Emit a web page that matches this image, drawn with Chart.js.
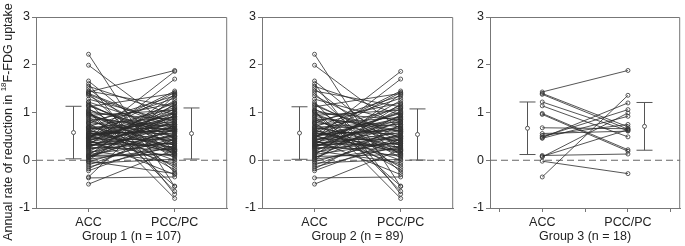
<!DOCTYPE html>
<html>
<head>
<meta charset="utf-8">
<script src="https://cdn.jsdelivr.net/npm/chart.js@4.4.1/dist/chart.umd.min.js"></script>
<style>
  body { margin: 0; background: #fff; }
  .panel { position: absolute; top: 0; }
</style>
</head>
<body>
<div class="panel" style="left:0"><canvas id="c1" width="232" height="246"></canvas></div>
<div class="panel" style="left:232px"><canvas id="c2" width="226" height="246"></canvas></div>
<div class="panel" style="left:458px"><canvas id="c3" width="227" height="246"></canvas></div>
<script>
// === Data ===
const categories = ["ACC", "PCC/PC"];
const catX = [2, 4];          // x positions of the two regions
const errX = [1.64, 4.38];    // x positions of the mean ± SD bars
const yTicks = [-1, 0, 1, 2, 3];

// Group 2 (n = 89), paired values ACC -> PCC/PC
const g2Acc = [
  2.22, 1.99, 1.66, 1.60, 1.55, 1.50, 1.45, 1.40, 1.35, 1.28,
  1.22, 1.18, 1.12, 1.08, 1.05, 1.02, 1.00, 0.97, 0.94, 0.90,
  0.87, 0.85, 0.82, 0.80, 0.77, 0.75, 0.72, 0.70, 0.68, 0.66,
  0.64, 0.62, 0.60, 0.58, 0.56, 0.55, 0.53, 0.51, 0.50, 0.48,
  0.46, 0.45, 0.43, 0.42, 0.40, 0.38, 0.37, 0.35, 0.34, 0.32,
  0.31, 0.30, 0.28, 0.27, 0.25, 0.24, 0.22, 0.20, 0.18, 0.16,
  0.14, 0.12, 0.10, 0.08, 0.06, 0.04, 0.02, 0.00, -0.03, -0.06,
  -0.10, -0.14, -0.18, -0.22, -0.37, -0.50, 1.03, 0.92, 0.78, 0.63,
  0.52, 0.41, 0.33, 0.29, 0.36, 0.47, 0.57, 0.69, 1.15
];
const g2Pcc = [
  -0.55, 0.65, 0.20, -0.71, 0.95, 0.10, 1.12, -0.25, 0.45, 0.80,
  -0.65, 0.30, 1.40, 0.05, 0.60, -0.80, 0.85, 0.35, 1.05, -0.15,
  0.70, 0.15, 1.20, 0.50, -0.20, 0.90, 0.25, 1.30, 0.40, 0.75,
  0.00, 1.10, 0.55, 0.32, 1.45, 0.62, -0.10, 0.88, 0.18, 0.98,
  1.86, 0.42, 0.68, -0.30, 1.00, 0.28, 0.78, 1.15, 0.08, 0.58,
  1.70, 0.48, 0.92, 0.22, 1.25, 0.36, 0.72, -0.05, 1.08, 0.52,
  0.82, 0.38, 1.38, 0.12, 0.64, 0.95, 0.26, 1.18, 0.46, 0.02,
  0.56, 0.30, 0.74, 0.44, -0.35, 0.22, -0.54, 0.60, 1.35, 0.14,
  0.66, 1.02, 0.34, 0.86, 0.50, 1.42, 0.20, 0.80, 0.40
];

// Group 3 (n = 18)
const g3Acc = [1.43, 1.40, 1.38, 1.22, 1.14, 0.98, 0.96, 0.68, 0.56,
               0.52, 0.49, 0.47, 0.46, 0.10, 0.07, 0.08, -0.02, -0.35];
const g3Pcc = [1.88, 0.70, 0.65, 0.62, 0.49, 0.22, 0.19, 0.66, 0.61,
               0.75, 1.06, 1.20, 0.92, 0.13, 0.99, 0.64, -0.28, 1.36];

// Group 1 (n = 107) = Group 2 + Group 3
const g1Acc = g2Acc.concat(g3Acc);
const g1Pcc = g2Pcc.concat(g3Pcc);

// mean and SD shown by the error bars [ACC, PCC/PC]
const g1Mean = [0.58, 0.56], g1Sd = [0.55, 0.535];
const g2Mean = [0.57, 0.54], g2Sd = [0.55, 0.535];
const g3Mean = [0.67, 0.71], g3Sd = [0.55, 0.50];

const FONT = "'Liberation Sans', Arial, sans-serif";
const LINE = "#2a2a2a";
const AXIS = "#777777";

// === Plugin: dashed zero line, frame, error bars ===
const panelPlugin = {
  id: "panelExtras",
  beforeDatasetsDraw(chart) {
    const { ctx, chartArea: a, scales: { y } } = chart;
    const y0 = y.getPixelForValue(0);
    ctx.save();
    ctx.strokeStyle = "#666";
    ctx.lineWidth = 1;
    ctx.setLineDash([7, 4]);
    ctx.beginPath();
    ctx.moveTo(a.left, y0);
    ctx.lineTo(a.right, y0);
    ctx.stroke();
    ctx.setLineDash([]);
    // top and right border of the frame
    ctx.strokeStyle = AXIS;
    ctx.beginPath();
    ctx.moveTo(a.left, a.top + 0.5);
    ctx.lineTo(a.right - 0.5, a.top + 0.5);
    ctx.lineTo(a.right - 0.5, a.bottom);
    ctx.stroke();
    ctx.restore();
  },
  afterDatasetsDraw(chart, args, opts) {
    const { ctx, scales: { x, y } } = chart;
    ctx.save();
    ctx.strokeStyle = "#555";
    ctx.lineWidth = 1;
    opts.mean.forEach((m, i) => {
      const px = Math.round(x.getPixelForValue(errX[i])) + 0.5;
      const top = y.getPixelForValue(m + opts.sd[i]);
      const bot = y.getPixelForValue(m - opts.sd[i]);
      ctx.beginPath();
      ctx.moveTo(px, top); ctx.lineTo(px, bot);
      ctx.moveTo(px - 8, top); ctx.lineTo(px + 8, top);
      ctx.moveTo(px - 8, bot); ctx.lineTo(px + 8, bot);
      ctx.stroke();
      ctx.beginPath();
      ctx.fillStyle = "#fff";
      ctx.arc(px, y.getPixelForValue(m), 2, 0, Math.PI * 2);
      ctx.fill();
      ctx.stroke();
    });
    ctx.restore();
  }
};

// === Plugin: y-axis title with superscript ===
const yTitlePlugin = {
  id: "yTitle",
  afterDraw(chart) {
    const ctx = chart.ctx;
    const parts = [
      { t: "Annual rate of reduction in ", s: 12.5, dy: 0 },
      { t: "18", s: 8, dy: -5 },
      { t: "F-FDG uptake", s: 12.5, dy: 0 }
    ];
    ctx.save();
    ctx.fillStyle = "#222";
    ctx.textBaseline = "middle";
    let total = 0;
    parts.forEach(p => { ctx.font = p.s + "px " + FONT; total += ctx.measureText(p.t).width; });
    ctx.translate(9, 122);
    ctx.rotate(-Math.PI / 2);
    let cx = -total / 2;
    parts.forEach(p => {
      ctx.font = p.s + "px " + FONT;
      ctx.fillText(p.t, cx, p.dy);
      cx += ctx.measureText(p.t).width;
    });
    ctx.restore();
  }
};

function pairDatasets(acc, pcc) {
  return acc.map((a, i) => ({
    data: [{ x: catX[0], y: a }, { x: catX[1], y: pcc[i] }],
    showLine: true,
    borderColor: LINE,
    borderWidth: 0.8,
    pointRadius: 2,
    pointBorderWidth: 0.8,
    pointBorderColor: "#333",
    pointBackgroundColor: "rgba(255,255,255,0)"
  }));
}

function makePanel(id, acc, pcc, mean, sd, title, yWidth, padRight, xTicks, withTitle) {
  const ctx = document.getElementById(id).getContext("2d");
  return new Chart(ctx, {
    type: "scatter",
    data: { datasets: pairDatasets(acc, pcc) },
    plugins: withTitle ? [panelPlugin, yTitlePlugin] : [panelPlugin],
    options: {
      responsive: false,
      animation: false,
      layout: { padding: { top: 17, right: padRight, bottom: 0, left: 0 } },
      plugins: {
        legend: { display: false },
        tooltip: { enabled: false },
        panelExtras: { mean: mean, sd: sd }
      },
      scales: {
        x: {
          type: "linear",
          min: 0.78,
          max: 5.22,
          afterBuildTicks: s => { s.ticks = xTicks.map(v => ({ value: v })); },
          afterFit: s => { s.height = 38; },
          ticks: {
            autoSkip: false,
            maxRotation: 0,
            padding: 3,
            color: "#222",
            font: { family: FONT, size: 12.5 },
            callback: v => {
              const k = catX.indexOf(v);
              return k >= 0 ? categories[k] : "";
            }
          },
          grid: { drawOnChartArea: false, tickLength: 4, color: AXIS },
          border: { color: AXIS },
          title: {
            display: true,
            text: title,
            color: "#222",
            font: { family: FONT, size: 12.5 },
            padding: { top: 0, bottom: 2 }
          }
        },
        y: {
          min: -1,
          max: 3,
          afterBuildTicks: s => { s.ticks = yTicks.map(v => ({ value: v })); },
          afterFit: s => { s.width = yWidth; },
          ticks: {
            padding: 2,
            color: "#222",
            font: { family: FONT, size: 12.5 }
          },
          grid: { drawOnChartArea: false, tickLength: 4, color: AXIS },
          border: { color: AXIS }
        }
      }
    }
  });
}

makePanel("c1", g1Acc, g1Pcc, g1Mean, g1Sd, "Group 1 (n = 107)", 36, 3, catX, true);
makePanel("c2", g2Acc, g2Pcc, g2Mean, g2Sd, "Group 2 (n = 89)", 30, 4, catX, false);
makePanel("c3", g3Acc, g3Pcc, g3Mean, g3Sd, "Group 3 (n = 18)", 32, 2, [1, 2, 3, 4, 5], false);
</script>
</body>
</html>
